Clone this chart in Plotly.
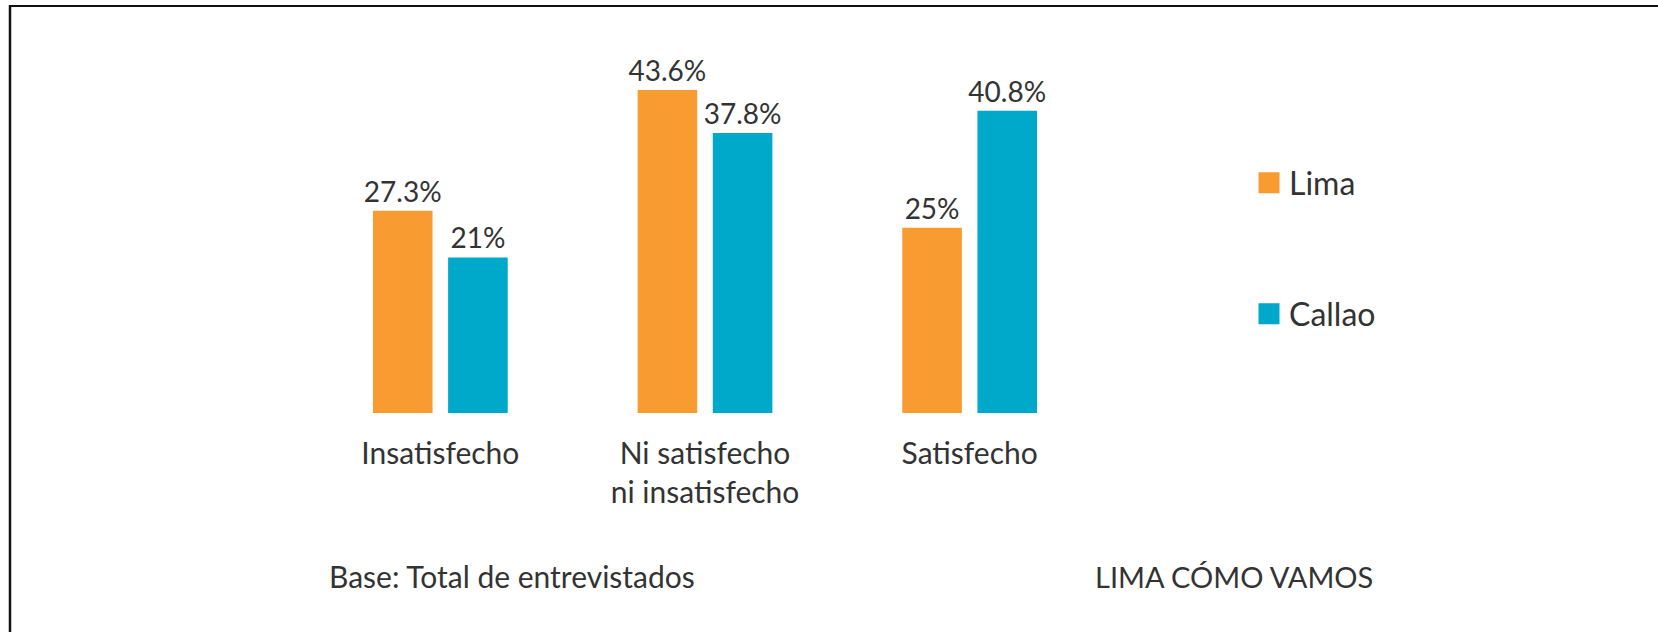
import plotly.graph_objects as go

# ---- data ----
categories = ["Insatisfecho", "Ni satisfecho<br>ni insatisfecho", "Satisfecho"]
series_names = ["Lima", "Callao"]
lima_values = [27.3, 43.6, 25.0]
callao_values = [21.0, 37.8, 40.8]
lima_labels = ["27.3%", "43.6%", "25%"]
callao_labels = ["21%", "37.8%", "40.8%"]
footer_left = "Base: Total de entrevistados"
footer_right = "LIMA CÓMO VAMOS"

# ---- style ----
ORANGE = "#F89B30"
TEAL = "#00A8CA"
TEXT = "#333333"
FONT = "Lato"
W, H = 1658, 632
ML, MR, MT, MB = 308, 556, 60, 219
PW, PH = W - ML - MR, H - MT - MB


def px_to_paper_x(px):
    return (px - ML) / PW


def px_to_paper_y(py):
    return (H - MB - py) / PH


fig = go.Figure()
fig.add_trace(go.Bar(
    x=categories, y=lima_values, name=series_names[0],
    marker=dict(color=ORANGE, line=dict(width=0)),
    text=lima_labels, textposition="outside", cliponaxis=False,
    constraintext="none",
    textfont=dict(family=FONT, size=28, color=TEXT),
    showlegend=False,
))
fig.add_trace(go.Bar(
    x=categories, y=callao_values, name=series_names[1],
    marker=dict(color=TEAL, line=dict(width=0)),
    text=callao_labels, textposition="outside", cliponaxis=False,
    constraintext="none",
    textfont=dict(family=FONT, size=28, color=TEXT),
    showlegend=False,
))

# legend entries (square swatches)
fig.add_trace(go.Scatter(
    x=[None], y=[None], mode="markers", name=series_names[0],
    marker=dict(symbol="square", size=16, color=ORANGE, line=dict(color=ORANGE, width=5)),
    legend="legend",
))
fig.add_trace(go.Scatter(
    x=[None], y=[None], mode="markers", name=series_names[1],
    marker=dict(symbol="square", size=16, color=TEAL, line=dict(color=TEAL, width=5)),
    legend="legend2",
))

legend_style = dict(
    font=dict(family=FONT, size=32, color=TEXT),
    bgcolor="rgba(0,0,0,0)", borderwidth=0,
    xanchor="left", yanchor="middle", itemsizing="trace",
)
fig.update_layout(
    legend=dict(x=px_to_paper_x(1249), y=px_to_paper_y(183), **legend_style),
    legend2=dict(x=px_to_paper_x(1249), y=px_to_paper_y(314), **legend_style),
)

fig.update_layout(
    width=W, height=H,
    margin=dict(l=ML, r=MR, t=MT, b=MB, pad=0),
    paper_bgcolor="white", plot_bgcolor="white",
    barmode="group", bargap=0.432, bargroupgap=0.207,
    font=dict(family=FONT, size=28, color=TEXT),
    xaxis=dict(
        type="category", range=[-0.5, 2.5],
        showgrid=False, zeroline=False, showline=False, ticks="",
        tickfont=dict(family=FONT, size=30, color=TEXT),
        ticklabelstandoff=20,
    ),
    yaxis=dict(
        range=[0, PH / 7.41], visible=False,
        showgrid=False, zeroline=False,
    ),
    annotations=[
        dict(text=footer_left, xref="paper", yref="paper",
             x=px_to_paper_x(327), y=px_to_paper_y(576),
             xanchor="left", yanchor="middle", showarrow=False,
             font=dict(family=FONT, size=30, color=TEXT)),
        dict(text=footer_right, xref="paper", yref="paper",
             x=px_to_paper_x(1093), y=px_to_paper_y(576),
             xanchor="left", yanchor="middle", showarrow=False,
             font=dict(family=FONT, size=29, color=TEXT)),
    ],
    shapes=[
        dict(type="line", xref="paper", yref="paper",
             x0=px_to_paper_x(9), x1=px_to_paper_x(W), y0=px_to_paper_y(6), y1=px_to_paper_y(6),
             line=dict(color="#111111", width=2)),
        dict(type="line", xref="paper", yref="paper",
             x0=px_to_paper_x(10), x1=px_to_paper_x(10), y0=px_to_paper_y(5), y1=px_to_paper_y(H),
             line=dict(color="#111111", width=2.5)),
    ],
)

fig.write_html(
    "out.html",
    config={"displayModeBar": False},
    post_script="document.body.style.margin='0';document.body.style.overflow='hidden';",
)
